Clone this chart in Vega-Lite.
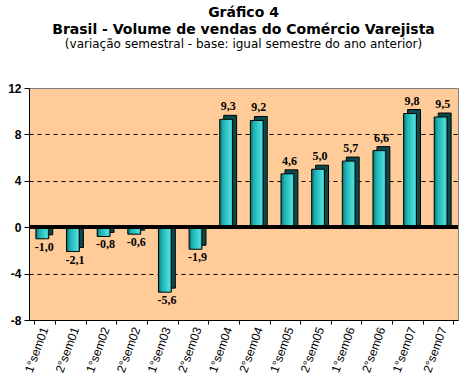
{
  "$schema": "https://vega.github.io/schema/vega-lite/v6.json",
  "width": 429,
  "height": 232,
  "autosize": {"type": "none"},
  "padding": {"left": 29, "top": 88, "right": 13, "bottom": 65},
  "background": "white",
  "title": {
    "text": ["Gráfico 4", "Brasil -  Volume de vendas do Comércio Varejista"],
    "subtitle": "(variação semestral - base: igual semestre do ano anterior)",
    "anchor": "middle",
    "font": "DejaVu Sans",
    "fontSize": 14,
    "fontWeight": "bold",
    "lineHeight": 17,
    "color": "black",
    "subtitleFont": "DejaVu Sans",
    "subtitleFontSize": 12,
    "subtitleColor": "black",
    "subtitlePadding": 2,
    "offset": 32
  },
  "config": {
    "locale": {"number": {"decimal": ",", "thousands": ".", "grouping": [3], "currency": ["R$ ", ""], "minus": "-"}},
    "view": {"fill": "#FFCC99", "stroke": "#808080", "strokeWidth": 1}
  },
  "data": {
    "values": [
      {"s": "1°sem01", "v": -1.0},
      {"s": "2°sem01", "v": -2.1},
      {"s": "1°sem02", "v": -0.8},
      {"s": "2°sem02", "v": -0.6},
      {"s": "1°sem03", "v": -5.6},
      {"s": "2°sem03", "v": -1.9},
      {"s": "1°sem04", "v": 9.3},
      {"s": "2°sem04", "v": 9.2},
      {"s": "1°sem05", "v": 4.6},
      {"s": "2°sem05", "v": 5.0},
      {"s": "1°sem06", "v": 5.7},
      {"s": "2°sem06", "v": 6.6},
      {"s": "1°sem07", "v": 9.8},
      {"s": "2°sem07", "v": 9.5}
    ]
  },
  "encoding": {
    "x": {
      "field": "s", "type": "nominal", "sort": null,
      "scale": {"paddingInner": 0.3, "paddingOuter": 0.15},
      "axis": {
        "title": null, "labelAngle": -70, "labelFont": "Liberation Sans", "labelFontSize": 12,
        "labelColor": "black", "domainColor": "black", "tickColor": "black", "tickSize": 4,
        "labelPadding": 3, "tickBand": "extent"
      }
    },
    "y": {
      "field": "v", "type": "quantitative",
      "scale": {"domain": [-8, 12], "nice": false},
      "axis": {
        "title": null, "values": [-8, -4, 0, 4, 8, 12], "format": "d",
        "labelFont": "Liberation Sans", "labelFontSize": 12, "labelFontWeight": "bold",
        "labelColor": "black", "domainColor": "black", "tickColor": "black", "tickSize": 5,
        "labelPadding": 3,
        "grid": true, "gridColor": "black", "gridDash": [4, 4],
        "gridOpacity": {"condition": {"test": "datum.value == 0 || datum.value == 12 || datum.value == -8", "value": 0}, "value": 1}
      }
    }
  },
  "layer": [
    {
      "mark": {"type": "bar", "width": {"band": 0.6}, "xOffset": 2, "yOffset": -4, "color": "#0a4a4a", "stroke": "black", "strokeWidth": 1},
      "encoding": {"y2": {"datum": 0}}
    },
    {
      "mark": {
        "type": "bar", "width": {"band": 0.6}, "xOffset": -2, "stroke": "black", "strokeWidth": 1,
        "color": {"gradient": "linear", "x1": 0, "x2": 1, "y1": 0, "y2": 0,
          "stops": [
            {"offset": 0, "color": "#0a6a6a"},
            {"offset": 0.25, "color": "#1fb0b0"},
            {"offset": 0.6, "color": "#33cccc"},
            {"offset": 0.85, "color": "#55dcdc"},
            {"offset": 1, "color": "#1a9a9a"}
          ]}
      },
      "encoding": {"y2": {"datum": 0}}
    },
    {
      "mark": {"type": "rule", "color": "black", "strokeWidth": 3},
      "encoding": {"x": null, "y": {"datum": 0}}
    },
    {
      "transform": [{"filter": "datum.v >= 0"}],
      "mark": {"type": "text", "baseline": "bottom", "dy": -6, "font": "Liberation Serif", "fontSize": 12, "fontWeight": "bold", "color": "black"},
      "encoding": {"text": {"field": "v", "type": "quantitative", "format": ".1f"}}
    },
    {
      "transform": [{"filter": "datum.v < 0"}],
      "mark": {"type": "text", "baseline": "top", "dy": 3, "font": "Liberation Serif", "fontSize": 12, "fontWeight": "bold", "color": "black"},
      "encoding": {"text": {"field": "v", "type": "quantitative", "format": ".1f"}}
    }
  ]
}
